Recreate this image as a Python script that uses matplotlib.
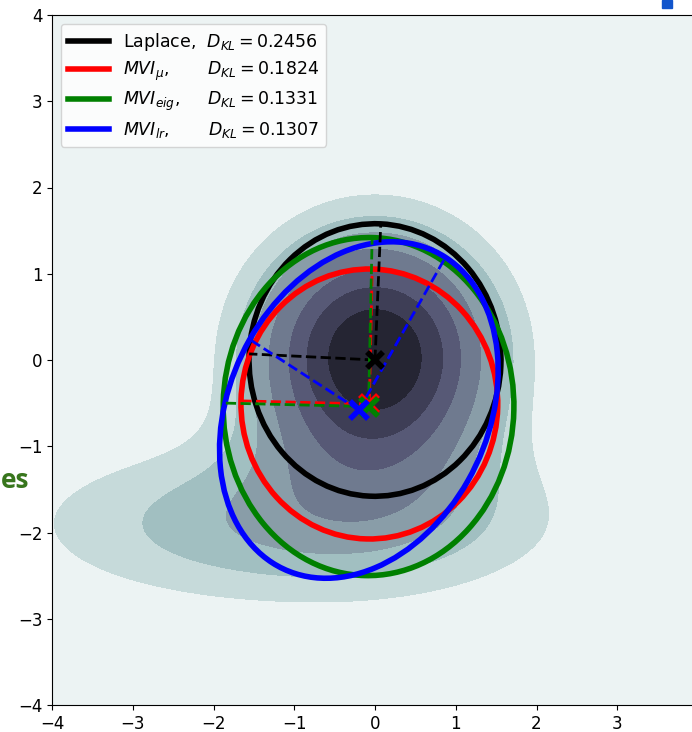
import numpy as np
import matplotlib.pyplot as plt
from matplotlib.patches import Ellipse, Rectangle

# target density: a round bump near the origin
# plus a wide flat one lying along y = -2
bump_amp = [1.0, 0.32]
bump_mx = [0.0, -1.0]
bump_my = [0.05, -1.9]
bump_sx = [1.0, 2.37]
bump_sy = [0.95, 0.7]
levels = [0.146, 0.236, 0.325, 0.43, 0.576, 0.709, 0.855]

# gaussian approximations: centre, semi axes and the directions of the two axes
labels = [r'Laplace,  $D_{KL} = 0.2456$',
          r'$MVI_{\mu}$,       $D_{KL} = 0.1824$',
          r'$MVI_{eig}$,     $D_{KL} = 0.1331$',
          r'$MVI_{lr}$,       $D_{KL} = 0.1307$']
colors = ['black', 'red', 'green', 'blue']
cx = [0.0, -0.07, -0.08, -0.2]
cy = [0.0, -0.51, -0.54, -0.58]
semi_a = [1.56, 1.59, 1.8, 2.07]
semi_b = [1.58, 1.565, 1.96, 1.58]
ang_a = [177.4, 178.7, 178.7, 58.8]
ang_b = [87.4, 88.7, 88.7, 148.8]
marker_size = [11, 13, 13, 13]

xticks = [-4, -3, -2, -1, 0, 1, 2, 3]
yticks = [-4, -3, -2, -1, 0, 1, 2, 3, 4]

fig = plt.figure(figsize=(6.92, 7.32), dpi=100)
ax = fig.add_axes([52/692, 27/732, 646/692, 690/732])

xs = np.linspace(-4, 4, 400)
X, Y = np.meshgrid(xs, xs)
Z = np.zeros_like(X)
for a, mx, my, sx, sy in zip(bump_amp, bump_mx, bump_my, bump_sx, bump_sy):
    Z += a*np.exp(-(X-mx)**2/(2*sx**2) - (Y-my)**2/(2*sy**2))

band_cols = [plt.cm.bone_r((i+0.5)/9) for i in range(8)]
ax.contourf(X, Y, Z, levels=[-1] + levels + [10], colors=band_cols)

for i in range(4):
    a, b = semi_a[i], semi_b[i]
    ax.add_patch(Ellipse((cx[i], cy[i]), 2*a, 2*b, angle=ang_a[i],
                         fill=False, ec=colors[i], lw=4, zorder=3))
    ax.plot([], [], color=colors[i], lw=4, label=labels[i])
    ta, tb = np.radians(ang_a[i]), np.radians(ang_b[i])
    ax.plot([cx[i], cx[i] + a*np.cos(ta)], [cy[i], cy[i] + a*np.sin(ta)],
            '--', color=colors[i], lw=2, zorder=4)
    ax.plot([cx[i], cx[i] + b*np.cos(tb)], [cy[i], cy[i] + b*np.sin(tb)],
            '--', color=colors[i], lw=2, zorder=4)
    ax.plot(cx[i], cy[i], 'x', color=colors[i], ms=marker_size[i], mew=4, zorder=5)

ax.set_xlim(-4, 4)
ax.set_ylim(-4, 4)
ax.set_xticks(xticks)
ax.set_yticks(yticks)
ax.tick_params(labelsize=12)
ax.legend(loc='upper left', fontsize=12.5, handlelength=2.4, labelspacing=0.4)

# bits of the slide around the screenshot
fig.text(1/692, 1 - 480/732, 'es', color='#38761d', fontsize=19,
         fontweight='bold', ha='left', va='center', family='Open Sans')
fig.add_artist(Rectangle((662/692, 1 - 8/732), 10/692, 8/732,
                         transform=fig.transFigure, color='#1155cc'))

fig.savefig('out.png')
